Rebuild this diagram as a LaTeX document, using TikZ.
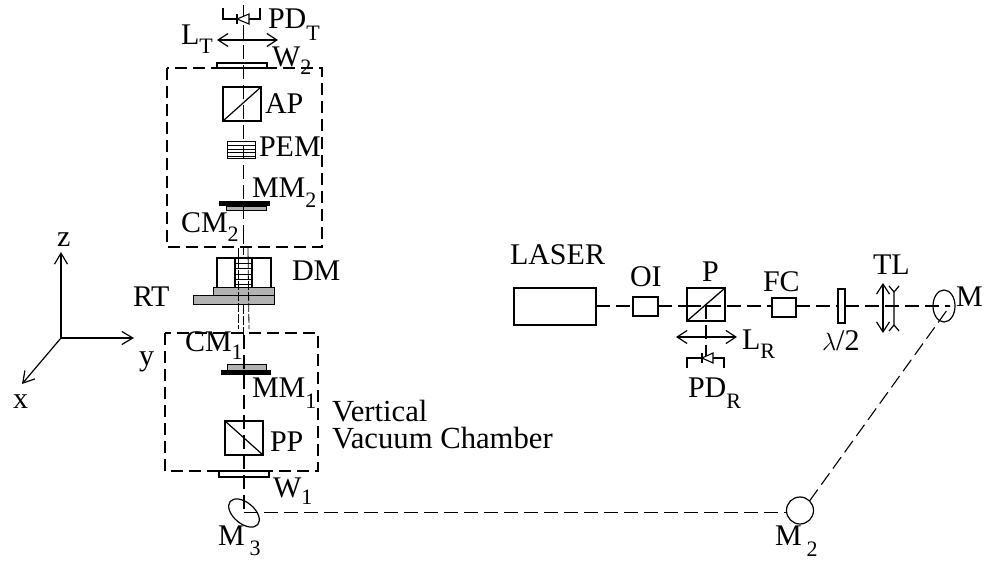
\documentclass[tikz,border=0pt]{standalone}
\usepackage{fontspec}
\setmainfont{Liberation Serif}
\usetikzlibrary{arrows.meta}
\tikzset{
 every node/.style={inner sep=0pt,outer sep=0pt},
 lab/.style={font=\fontsize{30}{32}\selectfont,anchor=base west},
 beam/.style={line width=1.1pt,dash pattern=on 14pt off 6pt},
 chamber/.style={line width=1.05pt,dash pattern=on 12pt off 6pt},
 thinbeam/.style={line width=.8pt,dash pattern=on 9pt off 2pt},
 solid box/.style={draw,line width=1.2pt,fill=white},
 gray box/.style={draw,line width=1pt,fill=black!30},
 lens/.style={line width=1.2pt,{Straight Barb[length=10pt,width=13pt]}-{Straight Barb[length=10pt,width=13pt]}},
 axis/.style={line width=1.2pt,-{Straight Barb[length=11pt,width=13pt]}},
}
\newcommand{\sbs}[2][10pt]{\raisebox{-#1}{\fontsize{22}{24}\selectfont #2}}
\begin{document}
\begin{tikzpicture}[x=1pt,y=-1pt]
\useasboundingbox (0,0) rectangle (985,561);
% axes
\coordinate (o) at (61,338); \coordinate (zt) at (61,252); \coordinate (yt) at (134,338); \coordinate (xt) at (22,384);
\draw[axis] (o)--(zt); \draw[axis] (o)--(yt); \draw[axis] (o)--(xt);
\node[lab] at (57,247) {z}; \node[lab] at (139,365) {y}; \node[lab] at (13,408) {x};
% chambers
\draw[chamber] (167,68) rectangle (322,247);
\draw[chamber] (165,333) rectangle (318,471);
% optical elements, upper column
\node[solid box,minimum width=50pt,minimum height=5pt] (w2) at (242,65.5) {};
\node[solid box,minimum width=38pt,minimum height=34pt] (ap) at (242,104) {};
\draw[line width=1.2pt] (ap.south west)--(ap.north east);
\node[solid box,minimum width=28pt,minimum height=17pt,line width=1pt] (pem) at (241,150.5) {};
\foreach \y in {145.5,149,152.5,156} \draw[line width=.9pt] (pem.west |- 0,\y)--(pem.east |- 0,\y);
\fill (219,201) rectangle (270,206);
\draw[line width=.7pt,fill=black!30] (226,206) rectangle (266,210);
% lower column
\draw[line width=.7pt,fill=black!30] (227,364) rectangle (266,370);
\fill (221,370) rectangle (271,375);
\node[solid box,minimum width=38pt,minimum height=34pt] (pp) at (244,438) {};
\draw[line width=1.2pt] (pp.north west)--(pp.south east);
\node[solid box,minimum width=50pt,minimum height=6pt] (w1) at (244,474) {};
% DM and RT
\draw[line width=1.1pt] (217,258) rectangle (271,288);
\draw[line width=1.4pt] (235,258)--(235,288) (252,258)--(252,288);
\draw[gray box] (213,288) rectangle (274,296);
\draw[gray box] (193,296) rectangle (274,305);
\foreach \y in {264,269,275,280,285} \draw[line width=1pt] (235,\y)--(252,\y);
\coordinate (r1t) at (238,248); \coordinate (r1b) at (238,329);
\coordinate (r2t) at (248,248); \coordinate (r2b) at (249,329);
\coordinate (r3t) at (243,235); \coordinate (r3b) at (243,258);
\coordinate (r4t) at (243,305); \coordinate (r4b) at (243,335);
\draw[thinbeam] (r1t)--(r1b);
\draw[thinbeam] (r2t)--(r2b);
\draw[thinbeam] (r3t)--(r3b);
\draw[thinbeam] (r4t)--(r4b);
% mirrors
\draw[line width=1.2pt,rotate around={-40:(244,513)}] (244,513) ellipse (18pt and 10.5pt);
\node[solid box,circle,minimum width=27pt] (m2) at (800,510.5) {};
\draw[line width=1.2pt] (944,306) ellipse (11pt and 16pt);
\coordinate (m3c) at (244,512.5);
\coordinate (m1c) at (950,306);
\coordinate (btop) at (243.5,5);
\coordinate (b1) at (243.5,235);
\coordinate (b2) at (244,335);
% laser line
\node[solid box,minimum width=82pt,minimum height=37pt] (laser) at (555,306.5) {};
\node[solid box,minimum width=25pt,minimum height=19pt] (oi) at (645.5,306.5) {};
\node[solid box,minimum width=38pt,minimum height=33pt] (p) at (706,304.5) {};
\draw[line width=1.3pt] (p.south west)--(p.north east);
\node[solid box,minimum width=24pt,minimum height=19pt] (fc) at (784,307.5) {};
\node[solid box,minimum width=7pt,minimum height=34pt] (hwp) at (841.5,306) {};
% beams
\draw[beam] (btop)--(b1);
\draw[beam] (b2)--(m3c);
\draw[beam] (m3c)--(m2.west |- m3c);
\draw[beam] (m2.north east)--(m1c);
\draw[beam] (laser.east |- m1c)--(oi.west |- m1c);
\draw[beam] (oi.east |- m1c)--(p.west |- m1c);
\draw[beam] (p.west |- m1c)--(fc.west |- m1c);
\draw[beam] (fc.east |- m1c)--(hwp.west |- m1c);
\draw[beam] (hwp.east |- m1c)--(m1c);
\draw[beam] (p.center)--(p.center |- 0,358);
% PD_T
\draw[line width=1.1pt] (223,8)--(223,19)--(260,19)--(260,8);
\draw[line width=1.1pt,fill=white] (237,19)--(249,14)--(249,24)--cycle;
\draw[line width=1.1pt] (237,14)--(237,24);
\draw[lens] (217,40)--(278,40);
% PD_R
\draw[lens] (676,337)--(737,337);
\draw[line width=1.1pt] (687,368)--(687,358)--(724,358)--(724,368);
\draw[line width=1.1pt,fill=white] (702,358)--(713,353)--(713,363)--cycle;
\draw[line width=1.1pt] (702,353)--(702,363);
% telescope
\draw[lens] (883,283)--(883,333);
\draw[line width=1.2pt] (894,292)--(894,325) (889,286)--(894,292)--(899,286) (889,331)--(894,325)--(899,331);
% labels
\node[lab] at (268,29) {PD\sbs[12pt]{T}};
\node[lab] at (181,45) {L\sbs[9pt]{T}};
\node[lab] at (272,67) {W\sbs[8pt]{2}};
\node[lab] at (265,114) {AP};
\node[lab] at (259,157) {PEM};
\node[lab] at (252,198) {MM\sbs{2}};
\node[lab] at (181,233) {CM\sbs[9pt]{2}};
\node[lab] at (292,281) {DM};
\node[lab] at (133,307) {RT};
\node[lab] at (185,351) {CM\sbs[9pt]{1}};
\node[lab] at (252,397) {MM\sbs[11pt]{1}};
\node[lab] at (270,451) {PP};
\node[lab] at (273,497) {W\sbs[7pt]{1}};
\node[lab] at (218,545) {M\,\sbs[10pt]{3}};
\node[lab,font=\fontsize{30.7}{26.5}\selectfont,align=left,anchor=north west] at (332,400.5) {Vertical\\Vacuum Chamber};
\node[lab] at (775,545) {M\,\sbs[11pt]{2}};
\node[lab] at (510,265) {LASER};
\node[lab] at (630,287) {OI};
\node[lab] at (702,282) {P};
\node[lab] at (742,349) {L\sbs[9pt]{R}};
\node[lab] at (688,397) {PD\sbs[11pt]{R}};
\node[lab] at (763,291) {FC};
\node[lab] at (822,350) {$\lambda$/2};
\node[lab] at (873,275) {TL};
\node[lab] at (956,306) {M};
\end{tikzpicture}
\end{document}
